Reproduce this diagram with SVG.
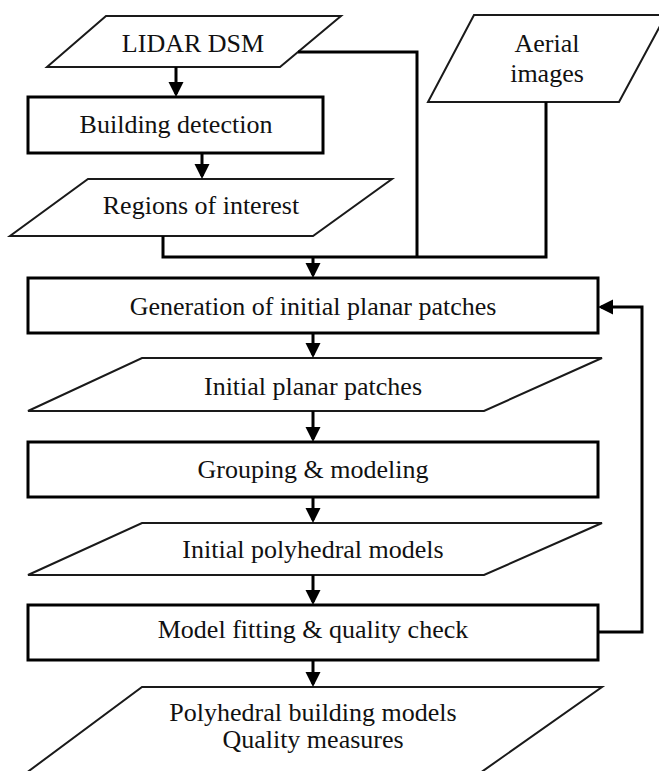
<svg xmlns="http://www.w3.org/2000/svg" width="659" height="771" viewBox="0 0 659 771">
  <style>
    .box { fill: #fff; stroke: #000; stroke-width: 3; }
    .data { fill: #fff; stroke: #1a1a1a; stroke-width: 2; }
    .lbl { font-family: "Liberation Serif", "Times New Roman", "DejaVu Serif", serif; font-size: 26px; fill: #111; text-anchor: middle; }
    .wire { fill: none; stroke: #000; stroke-width: 3; }
  </style>
  <defs>
    <marker id="arrow" markerUnits="userSpaceOnUse" markerWidth="16" markerHeight="16" refX="12" refY="7.5" orient="auto">
      <path d="M0,0 L15,7.5 L0,15 z" fill="#000"/>
    </marker>
  </defs>
  <rect width="659" height="771" fill="#fff"/>

  <!-- input: LIDAR DSM -->
  <g id="lidar-dsm">
    <polygon class="data" points="106,16 341,16 280,67 47,67"/>
    <text class="lbl" x="193" y="52">LIDAR DSM</text>
  </g>

  <!-- input: aerial images -->
  <g id="aerial-images">
    <polygon class="data" points="474,15 666,15 619,102 428,102"/>
    <text class="lbl" x="547" y="52">Aerial</text>
    <text class="lbl" x="547" y="82">images</text>
  </g>

  <g id="building-detection">
    <rect class="box" x="28" y="97" width="295" height="56"/>
    <text class="lbl" x="176" y="133">Building detection</text>
  </g>

  <g id="regions-of-interest">
    <polygon class="data" points="88,179 392,179 313,236 10,236"/>
    <text class="lbl" x="201" y="214">Regions of interest</text>
  </g>

  <g id="generation-patches">
    <rect class="box" x="28" y="278" width="570" height="55"/>
    <text class="lbl" x="313" y="315">Generation of initial planar patches</text>
  </g>

  <g id="initial-patches">
    <polygon class="data" points="142,358 602,358 484,411 28,411"/>
    <text class="lbl" x="313" y="395">Initial planar patches</text>
  </g>

  <g id="grouping-modeling">
    <rect class="box" x="28" y="442" width="570" height="55"/>
    <text class="lbl" x="313" y="478">Grouping &amp; modeling</text>
  </g>

  <g id="initial-models">
    <polygon class="data" points="142,523 602,523 484,575 28,575"/>
    <text class="lbl" x="313" y="558">Initial polyhedral models</text>
  </g>

  <g id="model-fitting">
    <rect class="box" x="28" y="605" width="570" height="55"/>
    <text class="lbl" x="313" y="638">Model fitting &amp; quality check</text>
  </g>

  <!-- output: runs past the lower edge of the page -->
  <g id="final-models">
    <polygon class="data" points="142,687 602,687 463,785 10,785"/>
    <text class="lbl" x="313" y="721">Polyhedral building models</text>
    <text class="lbl" x="313" y="748">Quality measures</text>
  </g>

  <g id="connectors">
    <line class="wire" x1="176" y1="67" x2="176" y2="94" marker-end="url(#arrow)"/>
    <line class="wire" x1="202" y1="153" x2="202" y2="176" marker-end="url(#arrow)"/>
    <polyline class="wire" points="298,52 417,52 417,257"/>
    <polyline class="wire" points="163,236 163,257 546,257 546,102"/>
    <line class="wire" x1="313" y1="257" x2="313" y2="275" marker-end="url(#arrow)"/>
    <line class="wire" x1="313" y1="333" x2="313" y2="355" marker-end="url(#arrow)"/>
    <line class="wire" x1="313" y1="411" x2="313" y2="439" marker-end="url(#arrow)"/>
    <line class="wire" x1="313" y1="497" x2="313" y2="520" marker-end="url(#arrow)"/>
    <line class="wire" x1="313" y1="575" x2="313" y2="602" marker-end="url(#arrow)"/>
    <line class="wire" x1="313" y1="660" x2="313" y2="684" marker-end="url(#arrow)"/>
    <polyline class="wire" points="598,632 642,632 642,307 601,307" marker-end="url(#arrow)"/>
  </g>
</svg>
